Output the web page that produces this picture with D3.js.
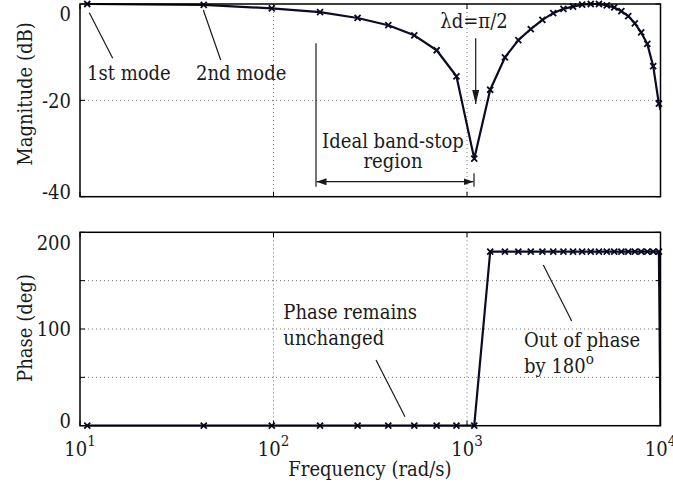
<!DOCTYPE html>
<html>
<head>
<meta charset="utf-8">
<script src="https://cdn.jsdelivr.net/npm/d3@7"></script>
<style>
  html, body { margin: 0; padding: 0; background: #fff; }
  svg { display: block; }
</style>
</head>
<body>
<svg id="chart" width="673" height="487"></svg>
<script>
// ---- data ----
const freq = [10.9, 43.6, 98, 174, 272, 392, 534, 697, 882, 1090,
              1318, 1570, 1842, 2136, 2452, 2790, 3150, 3532, 3935, 4360,
              4807, 5276, 5766, 6278, 6813, 7368, 7946, 8546, 9167, 9810];
const magDb = [0, -0.2, -0.9, -1.7, -2.9, -4.4, -6.5, -9.6, -15.0, -32.1,
               -17.8, -11.1, -7.5, -5.2, -3.3, -1.9, -1.0, -0.55, -0.15, 0,
               0, -0.3, -0.7, -1.5, -2.5, -4.0, -5.9, -8.3, -12.9, -20.7];
const phaseDeg = [0, 0, 0, 0, 0, 0, 0, 0, 0, 0,
                  180, 180, 180, 180, 180, 180, 180, 180, 180, 180,
                  180, 180, 180, 180, 180, 180, 180, 180, 180, 180];
// the line runs on to the axis edge (no marker there)
const tailFreq = [10000];
const tailMag = [-22];
const tailPhase = [0];

const xTicks = [10, 100, 1000, 10000];
const xTickExp = ["1", "2", "3", "4"];
const xGrid = [100, 1000];
const magDomain = [-40, 0];
const magTicks = [0, -20, -40];
const magGrid = [-20];
const phaseDomain = [0, 200];
const phaseTicks = [0, 50, 100, 150, 200];
const phaseLabels = [0, 100, 200];
const phaseGrid = [50, 100, 150];

// ---- layout / style ----
const FONT = "'DejaVu Serif', serif";
const FS = 20;          // main font size
const SQUEEZE = 0.9;    // horizontal condensing to mimic Times widths
const svg = d3.select("#chart");
const L = 80, R = 660.5;
const top1 = 4, bot1 = 196.7;
const top2 = 232.3, bot2 = 425.7;
const lineColor = "#0b0b22";
const textColor = "#1a1a1a";

const x = d3.scaleLog().domain([10, 10000]).range([L, R]);
const yMag = d3.scaleLinear().domain(magDomain).range([bot1, top1]);
const yPh = d3.scaleLinear().domain(phaseDomain).range([bot2, top2]);

svg.append("rect").attr("width", 673).attr("height", 487).attr("fill", "#fff");

const defs = svg.append("defs");
defs.append("marker").attr("id", "ah").attr("viewBox", "0 0 10 10")
  .attr("refX", 10).attr("refY", 5).attr("markerWidth", 10).attr("markerHeight", 10)
  .attr("markerUnits", "userSpaceOnUse").attr("orient", "auto-start-reverse")
  .append("path").attr("d", "M0,1.5L10,5L0,8.5Z").attr("fill", textColor);
defs.append("marker").attr("id", "ahBig").attr("viewBox", "0 0 10 10")
  .attr("refX", 10).attr("refY", 5).attr("markerWidth", 14).attr("markerHeight", 14)
  .attr("markerUnits", "userSpaceOnUse").attr("orient", "auto")
  .append("path").attr("d", "M0,2.5L10,5L0,7.5Z").attr("fill", textColor);

function txt(parent) {
  return parent.append("text").attr("font-family", FONT).attr("fill", textColor)
    .attr("font-size", FS);
}
function squeeze(sel) {
  const w = sel.node().getComputedTextLength();
  sel.attr("textLength", (w * SQUEEZE).toFixed(2)).attr("lengthAdjust", "spacingAndGlyphs");
  return sel;
}

function panel(id, y, yTop, yBot, ticks, labels, grid, vals, tail) {
  const g = svg.append("g");
  defs.append("clipPath").attr("id", id).append("rect")
    .attr("x", L).attr("y", yTop - 1).attr("width", R - L).attr("height", yBot - yTop + 2);

  g.selectAll(".gx").data(xGrid).join("line")
    .attr("x1", d => x(d)).attr("x2", d => x(d)).attr("y1", yTop).attr("y2", yBot)
    .attr("stroke", "#777").attr("stroke-width", 1).attr("stroke-dasharray", "1,3");
  g.selectAll(".gy").data(grid).join("line")
    .attr("x1", L).attr("x2", R).attr("y1", d => y(d)).attr("y2", d => y(d))
    .attr("stroke", "#777").attr("stroke-width", 1).attr("stroke-dasharray", "1,3");

  const tl = 5;
  ticks.forEach(t => {
    g.append("line").attr("x1", L).attr("x2", L + tl).attr("y1", y(t)).attr("y2", y(t)).attr("stroke", "#000");
    g.append("line").attr("x1", R).attr("x2", R - tl).attr("y1", y(t)).attr("y2", y(t)).attr("stroke", "#000");
  });
  xTicks.forEach(t => {
    g.append("line").attr("x1", x(t)).attr("x2", x(t)).attr("y1", yBot).attr("y2", yBot - tl).attr("stroke", "#000");
    g.append("line").attr("x1", x(t)).attr("x2", x(t)).attr("y1", yTop).attr("y2", yTop + tl).attr("stroke", "#000");
  });

  labels.forEach(d => {
    squeeze(txt(g).attr("x", 71)
      .attr("y", Math.min(Math.max(y(d), yTop + 10), yBot - 5))
      .attr("dy", "0.36em")
      .attr("text-anchor", "end")
      .text(d));
  });

  const pts = freq.map((f, i) => [f, vals[i]]).concat(tailFreq.map((f, i) => [f, tail[i]]));
  g.append("path").datum(pts)
    .attr("clip-path", `url(#${id})`)
    .attr("d", d3.line().x(d => x(d[0])).y(d => y(d[1])))
    .attr("fill", "none").attr("stroke", lineColor).attr("stroke-width", 2.2)
    .attr("stroke-linejoin", "round");

  g.selectAll(".mk").data(freq.map((f, i) => [f, vals[i]])).join("path")
    .attr("transform", d => `translate(${x(d[0])},${y(d[1])})`)
    .attr("d", "M-3,-3L3,3M-3,3L3,-3")
    .attr("stroke", lineColor).attr("stroke-width", 1.8).attr("fill", "none");

  g.append("rect").attr("x", L).attr("y", yTop).attr("width", R - L).attr("height", yBot - yTop)
    .attr("fill", "none").attr("stroke", "#000").attr("stroke-width", 1.5);
  return g;
}

panel("c1", yMag, top1, bot1, magTicks, magTicks, magGrid, magDb, tailMag);
panel("c2", yPh, top2, bot2, phaseTicks, phaseLabels, phaseGrid, phaseDeg, tailPhase);

// x tick labels 10^n
xTicks.forEach((t, i) => {
  const tx = txt(svg).attr("x", x(t)).attr("y", 456).attr("text-anchor", "middle");
  tx.append("tspan").text("10");
  tx.append("tspan").attr("font-size", 15).attr("dy", -10).text(xTickExp[i]);
  squeeze(tx);
});

// axis titles
squeeze(txt(svg).attr("x", 370).attr("y", 476).attr("text-anchor", "middle")
  .text("Frequency (rad/s)"));
squeeze(txt(svg).attr("transform", "translate(32,94) rotate(-90)")
  .attr("text-anchor", "middle").text("Magnitude (dB)"));
squeeze(txt(svg).attr("transform", "translate(32,328) rotate(-90)")
  .attr("text-anchor", "middle").text("Phase (deg)"));

// ---- annotations ----
const ann = svg.append("g");
function seg(x1, y1, x2, y2, extra) {
  const l = ann.append("line").attr("x1", x1).attr("y1", y1).attr("x2", x2).attr("y2", y2)
    .attr("stroke", textColor).attr("stroke-width", 1.2);
  if (extra) extra(l);
  return l;
}
function label(tx, ty, s, anchor) {
  return squeeze(txt(ann).attr("x", tx).attr("y", ty)
    .attr("text-anchor", anchor || "start").text(s));
}

label(87, 80, "1st mode");
seg(89.3, 12.7, 112.7, 58.3);
label(196, 80, "2nd mode");
seg(203.3, 10, 220.7, 60);

seg(316, 43.3, 316, 186.7);
seg(474, 173.3, 474, 186.7);
seg(316.5, 181.7, 473.5, 181.7, l => l.attr("marker-start", "url(#ah)").attr("marker-end", "url(#ah)"));
label(393, 148, "Ideal band-stop", "middle");
label(393, 168, "region", "middle");

label(474, 27.5, "λd=π/2", "middle");
seg(475.7, 38.3, 475.7, 104, l => l.attr("marker-end", "url(#ahBig)"));

label(283.3, 319.3, "Phase remains");
label(283.3, 345, "unchanged");
seg(376, 360, 405, 416.7);

label(524, 346.7, "Out of phase");
const by = txt(ann).attr("x", 524).attr("y", 372.7);
by.append("tspan").text("by 180");
by.append("tspan").attr("font-size", 15).attr("dy", -9).text("o");
squeeze(by);
seg(543.3, 265, 571.7, 321);
</script>
</body>
</html>
